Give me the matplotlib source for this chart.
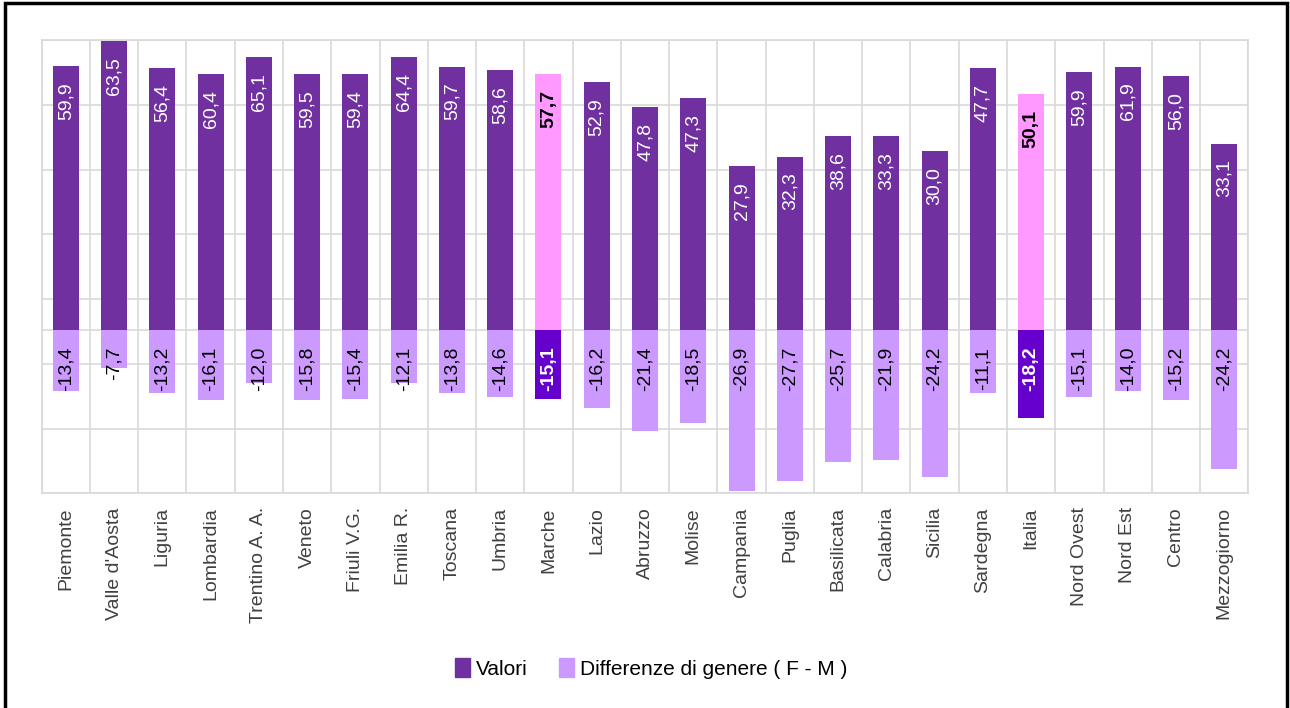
import numpy as np
import matplotlib.pyplot as plt
from matplotlib.patches import Patch, Rectangle

plt.rcParams['font.family'] = ['Liberation Sans', 'DejaVu Sans']

# Categories (regions and macro areas)
regioni = ['Piemonte', "Valle d'Aosta", 'Liguria', 'Lombardia', 'Trentino A. A.',
           'Veneto', 'Friuli V.G.', 'Emilia R.', 'Toscana', 'Umbria', 'Marche',
           'Lazio', 'Abruzzo', 'Molise', 'Campania', 'Puglia', 'Basilicata',
           'Calabria', 'Sicilia', 'Sardegna', 'Italia', 'Nord Ovest', 'Nord Est',
           'Centro', 'Mezzogiorno']

# Data labels as printed on the bars
valori = [59.9, 63.5, 56.4, 60.4, 65.1, 59.5, 59.4, 64.4, 59.7, 58.6, 57.7,
          52.9, 47.8, 47.3, 27.9, 32.3, 38.6, 33.3, 30.0, 47.7, 50.1, 59.9,
          61.9, 56.0, 33.1]
differenze = [-13.4, -7.7, -13.2, -16.1, -12.0, -15.8, -15.4, -12.1, -13.8,
              -14.6, -15.1, -16.2, -21.4, -18.5, -26.9, -27.7, -25.7, -21.9,
              -24.2, -11.1, -18.2, -15.1, -14.0, -15.2, -24.2]

# Bar lengths as drawn in the original chart (they do not follow the labels)
valori_h = [40.8, 44.6, 40.4, 39.5, 42.2, 39.5, 39.5, 42.2, 40.7, 40.1, 39.5,
            38.3, 34.5, 35.9, 25.3, 26.8, 30.0, 30.0, 27.6, 40.4, 36.5, 39.8,
            40.7, 39.2, 28.8]
differenze_h = [-9.4, -5.8, -9.7, -10.8, -8.2, -10.8, -10.6, -8.2, -9.7, -10.3,
                -10.6, -12.0, -15.6, -14.4, -24.8, -23.3, -20.3, -20.1, -22.7,
                -9.7, -13.5, -10.3, -9.4, -10.8, -21.5]

evidenza = ['Marche', 'Italia']

col_val = '#7030A0'
col_diff = '#CC99FF'
col_val_hl = '#FF99FF'
col_diff_hl = '#6600CC'
grid_col = '#d9d9d9'

fig = plt.figure(figsize=(12.9, 7.08), dpi=100)
ax = fig.add_axes([0.0323, 0.3032, 0.9354, 0.6403])

x = np.arange(len(regioni))
w = 0.54
c_val = [col_val_hl if r in evidenza else col_val for r in regioni]
c_diff = [col_diff_hl if r in evidenza else col_diff for r in regioni]
ax.bar(x, valori_h, w, color=c_val, zorder=3)
ax.bar(x, differenze_h, w, color=c_diff, zorder=3)

fmt = lambda v: f'{v:.1f}'.replace('.', ',')
for i, r in enumerate(regioni):
    hl = r in evidenza
    ax.annotate(fmt(valori[i]), (x[i], valori_h[i]), xytext=(0, -11.5),
                textcoords='offset points', rotation=90, ha='center', va='top',
                fontsize=14, color='black' if hl else 'white',
                fontweight='bold' if hl else 'normal', zorder=4)
    ax.annotate(fmt(differenze[i]), (x[i], 0), xytext=(0, -12),
                textcoords='offset points', rotation=90, ha='center', va='top',
                fontsize=14, color='white' if hl else 'black',
                fontweight='bold' if hl else 'normal', zorder=4)

ax.set_xlim(-0.5, len(regioni) - 0.5)
ax.set_ylim(-25.2, 44.8)
ax.set_yticks(np.arange(-25.2, 45, 10))
ax.set_yticklabels([])
ax.set_xticks(x)
ax.set_xticklabels(regioni, rotation=90, fontsize=14, color='#404040')
ax.set_xticks(np.arange(-0.5, len(regioni), 1), minor=True)
ax.tick_params(axis='both', which='both', length=0)
ax.tick_params(axis='x', pad=10)
ax.grid(True, which='minor', axis='x', color=grid_col, lw=1.2, zorder=0)
ax.grid(True, which='major', axis='y', color=grid_col, lw=1.2, zorder=0)
ax.axhline(0, color=grid_col, lw=1.2, zorder=1)
for s in ax.spines.values():
    s.set_color(grid_col)
    s.set_linewidth(1.2)

handles = [Patch(color=col_val), Patch(color=col_diff)]
fig.legend(handles, ['Valori', 'Differenze di genere ( F - M )'], loc='center',
           bbox_to_anchor=(0.505, 0.056), ncol=2, frameon=False,
           prop={'family': ['Liberation Sans Narrow', 'Liberation Sans'], 'size': 15},
           handlelength=0.7, handleheight=1.0, handletextpad=0.3, columnspacing=1.5)

# outer frame
fig.patches.append(Rectangle((0.004, -0.01), 0.994, 1.006, transform=fig.transFigure,
                             fill=False, edgecolor='black', lw=2.5))

fig.savefig('out.png', dpi=100)
